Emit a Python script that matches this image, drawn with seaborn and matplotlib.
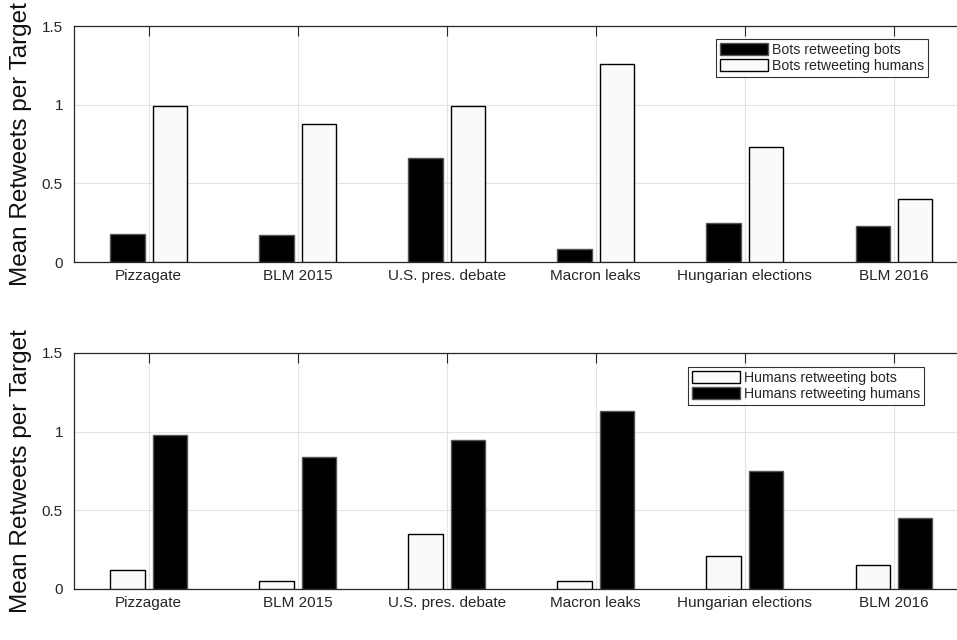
import matplotlib
matplotlib.use("Agg")
import matplotlib.pyplot as plt
import seaborn as sns
import pandas as pd

events = ["Pizzagate", "BLM 2015", "U.S. pres. debate", "Macron leaks",
          "Hungarian elections", "BLM 2016"]

bots_retweeting_bots = [0.18, 0.17, 0.66, 0.08, 0.25, 0.23]
bots_retweeting_humans = [0.99, 0.88, 0.99, 1.26, 0.73, 0.40]
humans_retweeting_bots = [0.12, 0.05, 0.35, 0.05, 0.21, 0.15]
humans_retweeting_humans = [0.98, 0.84, 0.95, 1.13, 0.75, 0.45]

y_ticks = [0, 0.5, 1, 1.5]
y_tick_labels = ["0", "0.5", "1", "1.5"]


def long_frame(series: dict) -> pd.DataFrame:
    rows = []
    for name, values in series.items():
        for ev, v in zip(events, values):
            rows.append({"event": ev, "value": v, "group": name})
    return pd.DataFrame(rows)


sns.set_style("white")
plt.rcParams["font.family"] = ["Liberation Sans", "DejaVu Sans"]

fig = plt.figure(figsize=(9.57, 6.4), dpi=100)
W, H = 957, 640
ax_left = 74 / W
ax_width = (968.5 - 74) / W

panels = [
    {
        "series": {"Bots retweeting bots": bots_retweeting_bots,
                   "Bots retweeting humans": bots_retweeting_humans},
        "colors": ["#000000", "#fafafa"],
        "bottom": 262, "top": 26, "legend": (716, 39),
    },
    {
        "series": {"Humans retweeting bots": humans_retweeting_bots,
                   "Humans retweeting humans": humans_retweeting_humans},
        "colors": ["#fafafa", "#000000"],
        "bottom": 589, "top": 353, "legend": (688, 367),
    },
]

for p in panels:
    ax = fig.add_axes([ax_left, 1 - p["bottom"] / H, ax_width,
                       (p["bottom"] - p["top"]) / H])
    df = long_frame(p["series"])
    sns.barplot(data=df, x="event", y="value", hue="group",
                hue_order=list(p["series"].keys()),
                palette=p["colors"], width=0.57, gap=0.19,
                edgecolor="black", linewidth=1.0, ax=ax, zorder=3)
    for patch in ax.patches:
        patch.set_zorder(3)
        if patch.get_facecolor()[0] < 0.5:
            patch.set_edgecolor("#555555")

    ax.set_xlim(-0.5, 5.5)
    ax.set_ylim(0, 1.5)
    ax.set_yticks(y_ticks)
    ax.set_yticklabels(y_tick_labels)
    ax.set_xlabel("")
    ax.set_ylabel("Mean Retweets per Target", fontsize=17.5, color="#111111")
    ax.yaxis.set_label_coords(-0.047, 0.5)

    ax.grid(True, color="#e3e3e3", linewidth=0.8, zorder=0)
    ax.set_axisbelow(True)
    for side in ("left", "bottom", "top"):
        ax.spines[side].set_color("#262626")
        ax.spines[side].set_linewidth(0.9)
    ax.spines["right"].set_visible(False)
    ax.tick_params(axis="both", direction="in", length=7, width=0.8,
                   colors="#262626", labelsize=11, labelcolor="#262626",
                   top=True)
    ax.tick_params(axis="y", pad=8)
    ax.tick_params(axis="x", pad=5)

    handles, labels = ax.get_legend_handles_labels()
    lx, ly = p["legend"]
    leg = ax.legend(handles, labels, loc="upper left",
                    bbox_to_anchor=(lx / W, 1 - ly / H),
                    bbox_transform=fig.transFigure,
                    fontsize=10.2, frameon=True, fancybox=False,
                    handlelength=3.4, handleheight=0.9, handletextpad=0.25,
                    borderpad=0.3, labelspacing=0.1, borderaxespad=0)
    leg.get_frame().set_edgecolor("black")
    leg.get_frame().set_linewidth(0.8)

fig.savefig("out.png", dpi=100)
